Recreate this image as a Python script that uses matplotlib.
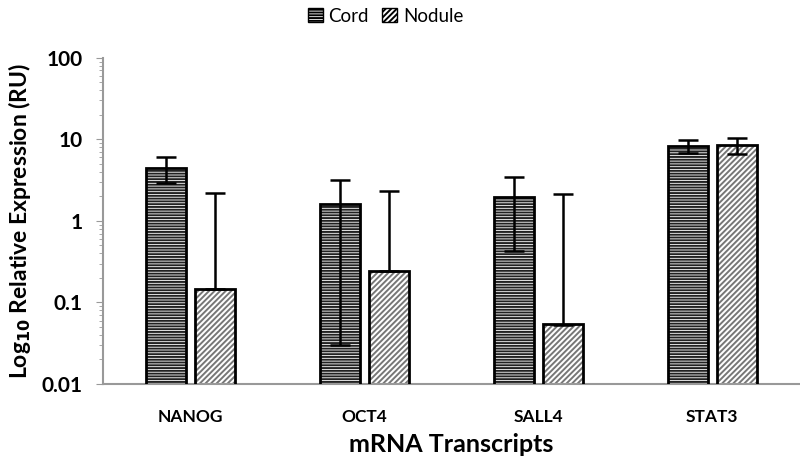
import numpy as np
import matplotlib.pyplot as plt
from matplotlib.patches import Patch

plt.rcParams['font.family'] = ['Lato', 'DejaVu Sans']
plt.rcParams['hatch.linewidth'] = 1.4

# values
genes = ['NANOG', 'OCT4', 'SALL4', 'STAT3']
cord = [4.5, 1.6, 1.95, 8.3]
cord_err = [1.6, 1.57, 1.52, 1.5]
nodule = [0.145, 0.245, 0.053, 8.6]
nodule_err = [2.05, 2.08, 2.09, 1.9]

def lower_err(vals, errs):
    # Excel drops the lower bar when it would go below zero on a log axis
    return [e if v - e > 0 else 0 for v, e in zip(vals, errs)]

fig = plt.figure(figsize=(8, 4.66), dpi=100)
ax = fig.add_axes([0.129, 0.176, 0.87, 0.70])

x = np.arange(len(genes))
w = 0.23
gap = 0.05
xc = x - (w + gap) / 2
xn = x + (w + gap) / 2

# hatch layers
ax.bar(xc, cord, w, bottom=0.001, color='white', edgecolor='#222222', hatch='------', linewidth=0, zorder=2)
ax.bar(xn, nodule, w, bottom=0.001, color='white', edgecolor='#777777', hatch='//////', linewidth=0, zorder=2)
# outlines
ax.bar(xc, cord, w, bottom=0.001, color='none', edgecolor='black', linewidth=2, zorder=3)
ax.bar(xn, nodule, w, bottom=0.001, color='none', edgecolor='black', linewidth=2, zorder=3)

ax.errorbar(xc, cord, yerr=[lower_err(cord, cord_err), cord_err], fmt='none',
            ecolor='black', elinewidth=1.8, capsize=7, capthick=1.8, zorder=4)
ax.errorbar(xn, nodule, yerr=[lower_err(nodule, nodule_err), nodule_err], fmt='none',
            ecolor='black', elinewidth=1.8, capsize=7, capthick=1.8, zorder=4)

ax.set_yscale('log')
ax.set_ylim(0.01, 100)
ax.set_xlim(-0.5, 3.5)
ax.set_yticks([0.01, 0.1, 1, 10, 100])
ax.set_yticklabels(['0.01', '0.1', '1', '10', '100'], fontweight='bold', fontsize=15)
ax.set_xticks(x)
ax.set_xticklabels(genes, fontweight='bold', fontsize=12.5)
ax.tick_params(axis='x', length=0, pad=18)
ax.tick_params(axis='y', which='major', length=5, color='#999999', pad=10)
ax.tick_params(axis='y', which='minor', length=3, color='#999999')

for s in ['top', 'right']:
    ax.spines[s].set_visible(False)
for s in ['left', 'bottom']:
    ax.spines[s].set_color('#999999')
    ax.spines[s].set_linewidth(1.5)

ax.set_xlabel('mRNA Transcripts', fontweight='bold', fontsize=18, labelpad=6)
ax.set_ylabel('Log$_{\\mathbf{10}}$ Relative Expression (RU)', fontweight='bold', fontsize=16.5, labelpad=6)

handles = [Patch(facecolor='white', edgecolor='black', hatch='------', label='Cord'),
           Patch(facecolor='white', edgecolor='black', hatch='//////', label='Nodule')]
fig.legend(handles=handles, loc='upper center', bbox_to_anchor=(0.482, 1.02), ncol=2,
           frameon=False, fontsize=13.5, handlelength=0.8, handleheight=0.8,
           handletextpad=0.3, columnspacing=0.7)

fig.savefig('out.png', dpi=100)
